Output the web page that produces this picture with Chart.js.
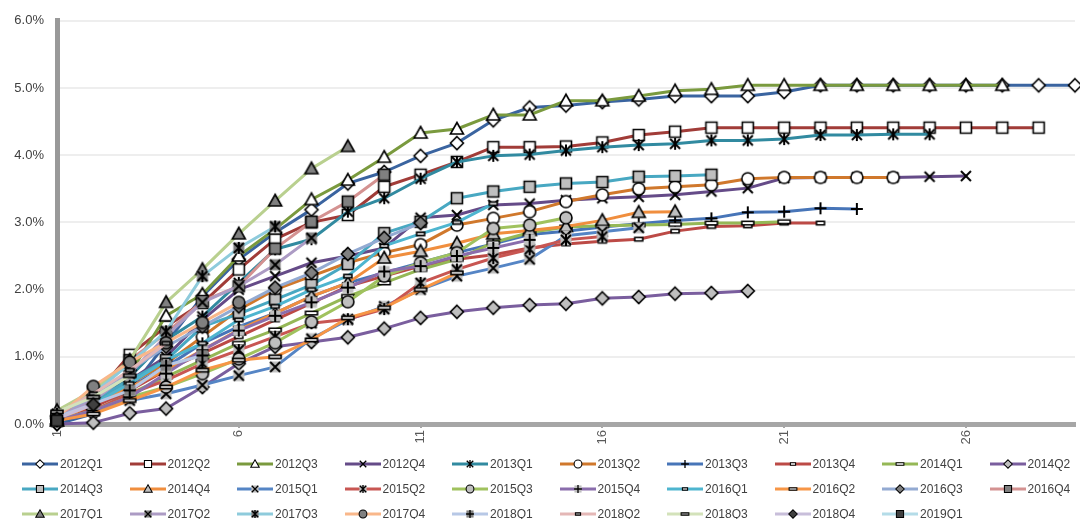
<!DOCTYPE html>
<html>
<head>
<meta charset="utf-8">
<script src="https://cdn.jsdelivr.net/npm/chart.js@4.4.1/dist/chart.umd.min.js"></script>
<style>
  body { margin: 0; background: #fff; font-family: "Liberation Sans", Arial, sans-serif; }
  #wrap { position: relative; width: 1080px; height: 519px; overflow: hidden; }
  #legend { position: absolute; left: 22px; top: 451px; display: grid;
            grid-template-columns: repeat(10, 107.5px); grid-auto-rows: 25px; }
  .item { display: flex; align-items: center; font-size: 12px; color: #404040; white-space: nowrap; }
  .item canvas { margin-right: 2px; }
</style>
</head>
<body>
<div id="wrap">
  <canvas id="chart" width="1080" height="452"></canvas>
  <div id="legend"></div>
</div>
<script>
// quarters since origination
const periods = ['1','2','3','4','5','6','7','8','9','10','11','12','13','14','15',
  '16','17','18','19','20','21','22','23','24','25','26','27','28','29'];

const seriesNames = ['2012Q1','2012Q2','2012Q3','2012Q4','2013Q1','2013Q2','2013Q3','2013Q4',
  '2014Q1','2014Q2','2014Q3','2014Q4','2015Q1','2015Q2','2015Q3','2015Q4','2016Q1','2016Q2',
  '2016Q3','2016Q4','2017Q1','2017Q2','2017Q3','2017Q4','2018Q1','2018Q2','2018Q3','2018Q4','2019Q1'];

// cumulative rate, percent
const s2012Q1 = [0.00,0.15,0.50,1.20,1.90,2.45,2.85,3.19,3.58,3.75,3.99,4.18,4.52,4.71,4.74,4.79,4.83,4.88,4.88,4.88,4.94,5.04,5.04,5.04,5.04,5.04,5.04,5.04,5.04];
const s2012Q2 = [0.05,0.40,1.03,1.45,1.80,2.30,2.75,3.00,3.11,3.53,3.71,3.90,4.12,4.12,4.13,4.19,4.30,4.35,4.41,4.41,4.41,4.41,4.41,4.41,4.41,4.41,4.41,4.41];
const s2012Q3 = [0.05,0.30,0.75,1.61,1.93,2.50,2.90,3.34,3.63,3.97,4.33,4.39,4.60,4.60,4.81,4.81,4.88,4.96,4.98,5.04,5.04,5.04,5.04,5.04,5.04,5.04,5.04];
const s2012Q4 = [0.10,0.35,0.65,1.00,1.55,2.00,2.20,2.40,2.50,2.62,3.07,3.11,3.26,3.28,3.33,3.36,3.38,3.41,3.46,3.51,3.66,3.67,3.67,3.67,3.68,3.69];
const s2013Q1 = [0.10,0.40,0.70,1.25,1.60,2.10,2.60,2.75,3.16,3.36,3.65,3.90,3.99,4.01,4.07,4.12,4.15,4.17,4.22,4.22,4.24,4.30,4.30,4.31,4.31];
const s2013Q2 = [0.05,0.30,0.60,0.90,1.30,1.70,2.00,2.20,2.40,2.55,2.67,2.96,3.06,3.16,3.31,3.41,3.50,3.53,3.56,3.65,3.67,3.67,3.67,3.67];
const s2013Q3 = [0.10,0.30,0.55,0.85,1.20,1.45,1.65,1.90,2.10,2.25,2.40,2.55,2.68,2.82,2.87,2.93,2.98,3.03,3.06,3.15,3.16,3.21,3.20];
const s2013Q4 = [0.05,0.25,0.50,0.80,1.05,1.30,1.55,1.80,2.05,2.20,2.35,2.45,2.52,2.62,2.68,2.72,2.75,2.87,2.94,2.95,2.99,2.99];
const s2014Q1 = [0.05,0.20,0.45,0.70,0.95,1.20,1.40,1.65,1.90,2.10,2.30,2.45,2.70,2.85,2.93,2.95,2.96,2.97,2.99,2.99,3.01];
const s2014Q2 = [0.00,0.02,0.16,0.23,0.55,0.90,1.15,1.22,1.29,1.42,1.58,1.67,1.73,1.77,1.79,1.87,1.89,1.94,1.95,1.98];
const s2014Q3 = [0.10,0.35,0.65,0.95,1.45,1.64,1.85,2.07,2.38,2.84,3.01,3.36,3.46,3.53,3.58,3.60,3.68,3.69,3.71];
const s2014Q4 = [0.05,0.30,0.55,0.80,1.10,1.40,1.65,1.90,2.10,2.47,2.57,2.69,2.83,2.88,2.94,3.03,3.15,3.16];
const s2015Q1 = [0.05,0.20,0.35,0.45,0.58,0.72,0.85,1.27,1.55,1.75,2.00,2.20,2.32,2.45,2.80,2.86,2.92];
const s2015Q2 = [0.05,0.20,0.45,0.65,0.90,1.10,1.30,1.50,1.56,1.71,2.10,2.30,2.47,2.60,2.74,2.79];
const s2015Q3 = [0.05,0.20,0.40,0.55,0.75,0.97,1.21,1.52,1.82,2.20,2.40,2.55,2.91,2.96,3.07];
const s2015Q4 = [0.05,0.20,0.40,0.75,1.10,1.39,1.61,1.81,2.03,2.27,2.35,2.50,2.62,2.74];
const s2016Q1 = [0.10,0.30,0.60,0.95,1.20,1.55,1.75,2.00,2.20,2.65,2.83,3.00,3.28];
const s2016Q2 = [0.05,0.15,0.35,0.55,0.80,0.95,1.00,1.25,1.58,1.73,2.00,2.25];
const s2016Q3 = [0.10,0.40,0.80,1.15,1.45,1.75,2.03,2.25,2.53,2.77,2.99];
const s2016Q4 = [0.10,0.50,0.95,1.35,1.83,2.05,2.61,3.01,3.31,3.71];
const s2017Q1 = [0.20,0.50,0.95,1.81,2.30,2.83,3.32,3.80,4.13];
const s2017Q2 = [0.10,0.35,0.75,1.31,1.81,2.05,2.37,2.77];
const s2017Q3 = [0.15,0.45,0.90,1.38,2.20,2.62,2.94];
const s2017Q4 = [0.10,0.56,0.92,1.21,1.51,1.81];
const s2018Q1 = [0.10,0.30,0.50,0.87,1.02];
const s2018Q2 = [0.15,0.45,0.80,1.20];
const s2018Q3 = [0.18,0.40,0.72];
const s2018Q4 = [0.08,0.29];
const s2019Q1 = [0.05];

const seriesValues = [s2012Q1,s2012Q2,s2012Q3,s2012Q4,s2013Q1,s2013Q2,s2013Q3,s2013Q4,
  s2014Q1,s2014Q2,s2014Q3,s2014Q4,s2015Q1,s2015Q2,s2015Q3,s2015Q4,s2016Q1,s2016Q2,
  s2016Q3,s2016Q4,s2017Q1,s2017Q2,s2017Q3,s2017Q4,s2018Q1,s2018Q2,s2018Q3,s2018Q4,s2019Q1];

const yTicks = [0, 1, 2, 3, 4, 5, 6];

// styles
const lineColors = ['#3a64a0','#a13c38','#7a9a3e','#654b88','#318aa0','#d0782c','#4775b8','#bc4a46',
  '#95b856','#7a5e9e','#48a8c2','#f08e3e','#5585c5','#c85652','#a0c25e','#8a6dac','#4eb5cf','#f79646',
  '#93aad2','#d49291','#b9d08f','#ac9bc4','#8ecbdc','#f9b78a','#b7c8e6','#e4b7b6','#d3e2ba','#c8beda','#b4dce8'];
const markerKinds = ['diamond','square','triangle','x','star','circle','plus','dash','longdash'];
const markerFills = ['#ffffff','#bfbfbf','#808080','#404040'];

function paintMarker(g, kind, fill, cx, cy, s) {
  g.save();
  g.translate(cx, cy);
  g.scale(s, s);
  g.lineWidth = 1.6;
  g.strokeStyle = '#000';
  g.fillStyle = fill;
  g.beginPath();
  if (kind === 'diamond') {
    g.moveTo(0, -6.5); g.lineTo(6.5, 0); g.lineTo(0, 6.5); g.lineTo(-6.5, 0); g.closePath();
    g.fill(); g.stroke();
  } else if (kind === 'square') {
    g.rect(-5.5, -5.5, 11, 11); g.fill(); g.stroke();
  } else if (kind === 'triangle') {
    g.moveTo(0, -6.5); g.lineTo(6.5, 5); g.lineTo(-6.5, 5); g.closePath(); g.fill(); g.stroke();
  } else if (kind === 'circle') {
    g.arc(0, 0, 6, 0, Math.PI * 2); g.fill(); g.stroke();
  } else if (kind === 'dash') {
    g.rect(-4, -1.8, 8, 3.6); g.fill(); g.stroke();
  } else if (kind === 'longdash') {
    g.rect(-6, -1.8, 12, 3.6); g.fill(); g.stroke();
  } else {
    if (fill !== '#ffffff') g.fillRect(-5.5, -5.5, 11, 11);
    g.beginPath();
    if (kind !== 'plus') { g.moveTo(-5, -5); g.lineTo(5, 5); g.moveTo(5, -5); g.lineTo(-5, 5); }
    if (kind === 'star') { g.moveTo(0, -6); g.lineTo(0, 6); }
    if (kind === 'plus') { g.moveTo(-6, 0); g.lineTo(6, 0); g.moveTo(0, -6); g.lineTo(0, 6); }
    g.lineWidth = 2;
    g.stroke();
  }
  g.restore();
}

function markerImage(i) {
  const c = document.createElement('canvas');
  c.width = 18; c.height = 18;
  paintMarker(c.getContext('2d'), markerKinds[i % 9], markerFills[Math.floor(i / 9)], 9, 9, 1);
  return c;
}

function legendIcon(i) {
  const c = document.createElement('canvas');
  c.width = 36; c.height = 14;
  const g = c.getContext('2d');
  g.strokeStyle = lineColors[i];
  g.lineWidth = 3;
  g.beginPath(); g.moveTo(0, 7); g.lineTo(36, 7); g.stroke();
  paintMarker(g, markerKinds[i % 9], markerFills[Math.floor(i / 9)], 18, 7, 0.65);
  return c;
}

const datasets = seriesNames.map((name, i) => ({
  label: name,
  data: seriesValues[i],
  borderColor: lineColors[i],
  backgroundColor: lineColors[i],
  borderWidth: 3,
  borderJoinStyle: 'round',
  borderCapStyle: 'round',
  tension: 0,
  fill: false,
  pointStyle: markerImage(i),
  pointRadius: 6,
  order: 100 - i,
  clip: false
}));

Chart.defaults.font.family = '"Liberation Sans", Arial, sans-serif';

const chart = new Chart(document.getElementById('chart'), {
  type: 'line',
  data: { labels: periods, datasets: datasets },
  options: {
    responsive: false,
    animation: false,
    events: [],
    layout: { autoPadding: false, padding: { top: 18, right: 5, left: 0, bottom: 0 } },
    plugins: { legend: { display: false }, tooltip: { enabled: false } },
    scales: {
      x: {
        offset: false,
        border: { color: '#a6a6a6', width: 5 },
        grid: {
          drawOnChartArea: false,
          tickLength: 4,
          lineWidth: 2,
          color: c => (c.index % 5 === 0 ? '#a6a6a6' : 'rgba(0,0,0,0)')
        },
        ticks: {
          autoSkip: false,
          maxRotation: 90,
          minRotation: 90,
          padding: 2,
          color: '#595959',
          font: { size: 13 },
          callback: (v, i) => (i % 5 === 0 ? periods[i] : '')
        },
        afterFit: s => { s.height = 28; s.paddingLeft = 0; s.paddingRight = 0; }
      },
      y: {
        min: yTicks[0],
        max: yTicks[yTicks.length - 1],
        border: { color: '#999999', width: 5 },
        grid: { color: '#eeeeee', lineWidth: 2, drawTicks: false },
        ticks: {
          stepSize: 1,
          padding: 13,
          color: '#404040',
          font: { size: 13 },
          callback: v => v.toFixed(1) + '%'
        },
        afterFit: s => { s.width = 57; }
      }
    }
  }
});

// legend: 10 columns, line + marker + name
const legendBox = document.getElementById('legend');
chart.data.datasets.forEach((ds, i) => {
  const item = document.createElement('div');
  item.className = 'item';
  item.appendChild(legendIcon(i));
  const span = document.createElement('span');
  span.textContent = ds.label;
  item.appendChild(span);
  legendBox.appendChild(item);
});
</script>
</body>
</html>
